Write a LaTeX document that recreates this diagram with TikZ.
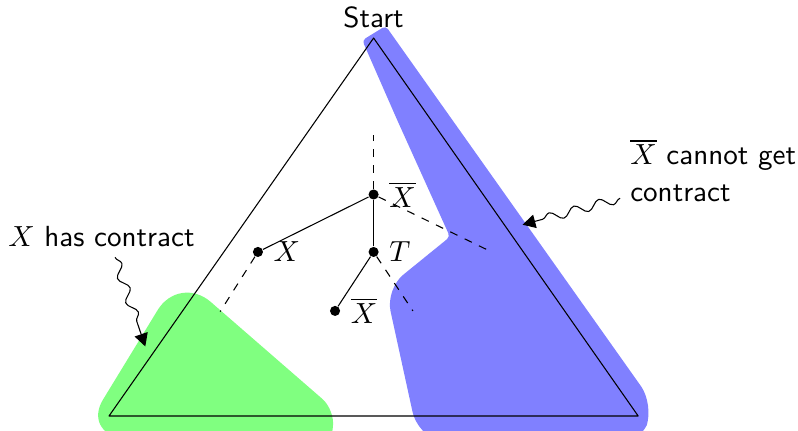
\documentclass[11pt,tikz,border=0pt]{standalone}
\usepackage{amsmath}
\usetikzlibrary{arrows.meta,decorations.pathmorphing}

\begin{document}
\begin{tikzpicture}[x=1cm,y=1cm,line join=round,font=\sffamily,
    vertex/.style={circle,fill=black,inner sep=0pt,minimum size=3.8pt},
    wiggly/.style={-{Triangle[length=1.7mm,width=1.8mm]},decorate,
      decoration={snake,amplitude=0.6mm,segment length=3.4mm,post length=2mm}}]
  \useasboundingbox (-1.442,-0.198) rectangle (9.114,5.503);

  % shaded regions
  \fill[green!50]
    (-0.34,-0.21) [rounded corners=0.55cm] -- (0.93,1.87)
    [rounded corners=0.22cm] -- (2.99,0.08) -- (2.89,-0.71)
    [rounded corners=0.5cm] -- cycle;
  \fill[blue!50]
    (3.35,4.97) [rounded corners=0.05cm] -- (3.66,5.16)
    [rounded corners=0.3cm] -- (7.21,0.15) -- (7.02,-0.38)
    [rounded corners=0.45cm] -- (4.11,-0.38)
    [rounded corners=0.3cm] -- (3.66,1.68)
    [rounded corners=0.05cm] -- (4.51,2.37) -- (3.81,3.92) -- cycle;

  % triangle
  \coordinate (left) at (0,0);
  \coordinate (right) at (7,0);
  \coordinate (apex) at (3.5,5);
  \draw (left) -- (right) -- (apex) -- cycle;
  \node[above] (start) at (apex) {Start};

  % tree
  \node[vertex,label=right:$\overline{X}$] (root) at (3.5,2.93) {};
  \node[vertex,label=right:$T$] (t) at (3.5,2.17) {};
  \node[vertex,label=right:$X$] (x) at (1.97,2.17) {};
  \node[vertex,label=right:$\overline{X}$] (xbar) at (2.99,1.39) {};
  \coordinate (up) at (3.5,3.72);
  \coordinate (rootright) at (5.0,2.2);
  \coordinate (tright) at (4.02,1.39);
  \coordinate (xleft) at (1.47,1.38);
  \draw (root) -- (x);
  \draw (root) -- (t);
  \draw (t) -- (xbar);
  \draw[dashed] (root) -- (up);
  \draw[dashed] (root) -- (rootright);
  \draw[dashed] (t) -- (tright);
  \draw[dashed] (x) -- (xleft);

  % comments
  \node (hasX) at (-0.10,2.37) {$X$ has contract};
  \node[anchor=west,align=left] (notX) at (6.76,3.25) {$\overline{X}$ cannot get\\contract};
  \coordinate (greentip) at (0.48,0.92);
  \coordinate (bluetip) at (5.47,2.53);
  \draw[wiggly] ([xshift=1.8mm]hasX.south) -- (greentip);
  \draw[wiggly] ([yshift=-3.7mm]notX.west) -- (bluetip);
\end{tikzpicture}
\end{document}
